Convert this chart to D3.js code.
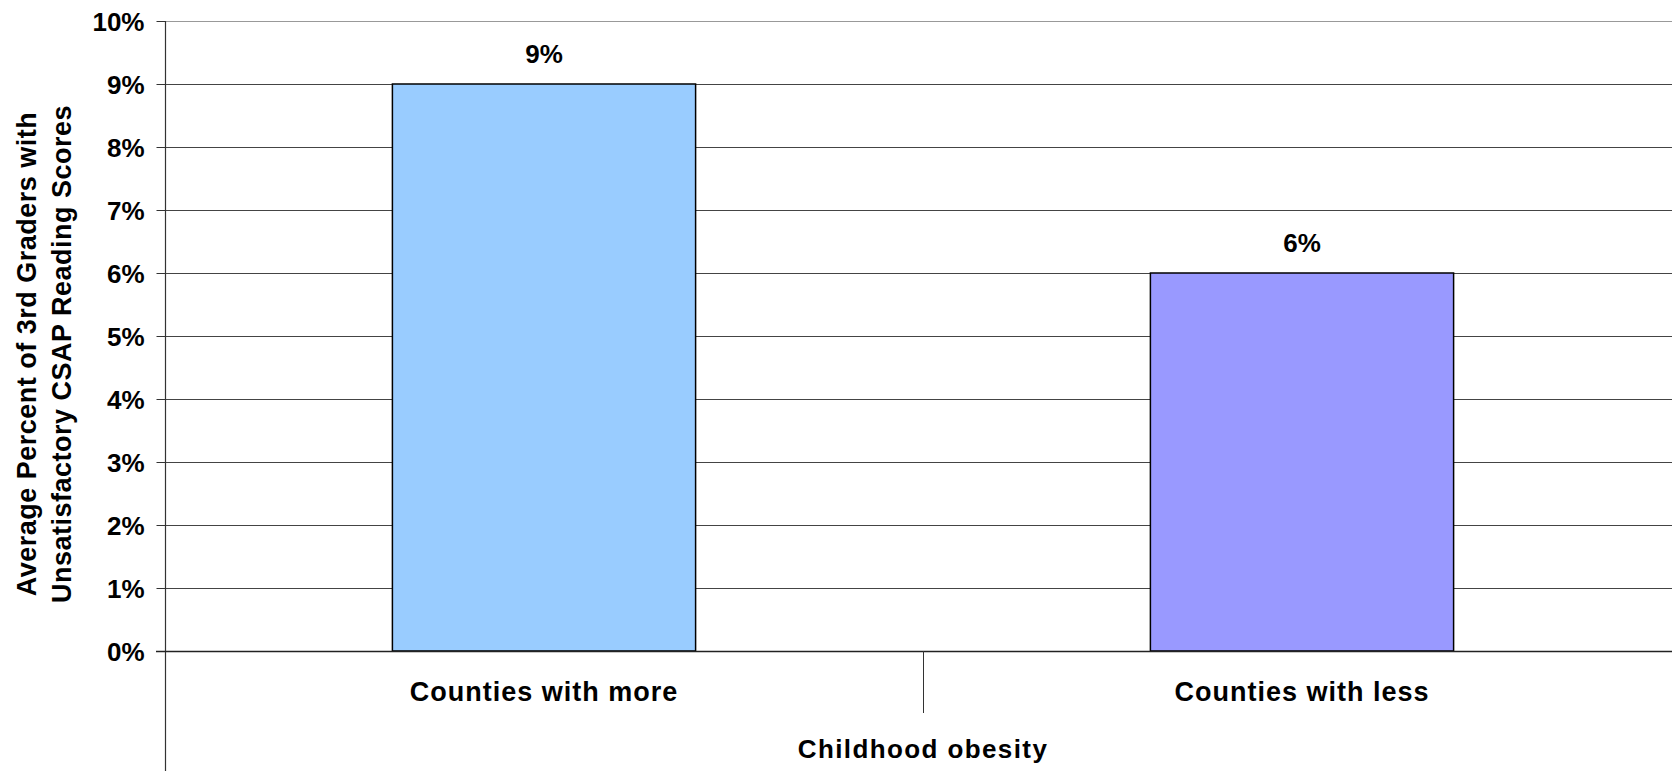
<!DOCTYPE html>
<html>
<head>
<meta charset="utf-8">
<script src="https://cdn.jsdelivr.net/npm/d3@7/dist/d3.min.js"></script>
<style>
  html, body { margin: 0; padding: 0; background: #fff; }
  svg { display: block; }
  text { font-family: "Liberation Sans", Arial, sans-serif; font-weight: bold; fill: #000; }
</style>
</head>
<body>
<svg id="chart" width="1672" height="771"></svg>
<script>
const categories = ["Counties with more", "Counties with less"];
const values = [9, 6];
const barColors = ["#99CCFF", "#9999FF"];
const yTicks = [0, 1, 2, 3, 4, 5, 6, 7, 8, 9, 10];
const yTitleLines = ["Average Percent of 3rd Graders with", "Unsatisfactory CSAP Reading Scores"];
const xTitle = "Childhood obesity";

(function () {
const W = 1672, H = 771;
const mLeft = 165, mRight = 1681, mTop = 21, mBottom = 651;

const svg = d3.select("#chart");

const x = d3.scaleBand().domain(categories).range([mLeft, mRight]).paddingInner(0.6).paddingOuter(0.3);
const y = d3.scaleLinear().domain([0, 10]).range([mBottom, mTop]);

// gridlines
svg.append("g").selectAll("line").data(yTicks.filter(d => d > 0)).join("line")
  .attr("x1", mLeft).attr("x2", mRight)
  .attr("y1", d => Math.round(y(d)) + 0.5).attr("y2", d => Math.round(y(d)) + 0.5)
  .attr("stroke", d => d === 10 ? "#999" : "#444").attr("stroke-width", 1);

// bars
svg.append("g").selectAll("rect").data(values).join("rect")
  .attr("x", (d, i) => x(categories[i]))
  .attr("y", d => y(d))
  .attr("width", x.bandwidth())
  .attr("height", d => y(0) - y(d))
  .attr("fill", (d, i) => barColors[i])
  .attr("stroke", "#000").attr("stroke-width", 1.5);

// value labels
svg.append("g").selectAll("text").data(values).join("text")
  .attr("x", (d, i) => x(categories[i]) + x.bandwidth() / 2)
  .attr("y", d => y(d) - 21)
  .attr("text-anchor", "middle")
  .style("font-size", "26px")
  .text(d => d + "%");

// y axis
const yAxis = d3.axisLeft(y).tickValues(yTicks).tickSize(9).tickPadding(12).tickFormat(d => d + "%");
const gy = svg.append("g").attr("transform", `translate(${mLeft + 0.5},0)`).call(yAxis);
gy.select(".domain").remove();
gy.selectAll(".tick line").attr("stroke", "#333");
gy.selectAll(".tick text").style("font-size", "26px").style("font-family", "'Liberation Sans', Arial, sans-serif").style("font-weight", "bold").attr("fill", "#000").attr("dy", "0.36em");

// left vertical axis line extends to bottom
svg.append("line").attr("x1", mLeft + 0.5).attr("x2", mLeft + 0.5).attr("y1", mTop).attr("y2", H)
  .attr("stroke", "#333").attr("stroke-width", 1.2);

// x baseline
svg.append("line").attr("x1", mLeft - 9).attr("x2", mRight).attr("y1", mBottom + 0.5).attr("y2", mBottom + 0.5)
  .attr("stroke", "#222").attr("stroke-width", 1.5);

// category divider
const divX = x(categories[1]) - x.step() * x.paddingInner() / 2;
svg.append("line").attr("x1", Math.round(divX) + 0.5).attr("x2", Math.round(divX) + 0.5)
  .attr("y1", mBottom).attr("y2", 713).attr("stroke", "#333").attr("stroke-width", 1);

// category labels
svg.append("g").selectAll("text").data(categories).join("text")
  .attr("x", d => x(d) + x.bandwidth() / 2)
  .attr("y", 701)
  .attr("text-anchor", "middle")
  .style("font-size", "27px")
  .style("letter-spacing", "1px")
  .text(d => d);

// x title
svg.append("text").attr("x", divX).attr("y", 758).attr("text-anchor", "middle")
  .style("font-size", "26px").style("letter-spacing", "1.4px").text(xTitle);

// y title
const yt = svg.append("text").attr("transform", "rotate(-90)").attr("text-anchor", "middle")
  .style("font-size", "27px").style("letter-spacing", "0.5px");
yt.selectAll("tspan").data(yTitleLines).join("tspan")
  .attr("x", -354)
  .attr("y", (d, i) => i === 0 ? 36 : 71)
  .text(d => d);
})();
</script>
</body>
</html>
